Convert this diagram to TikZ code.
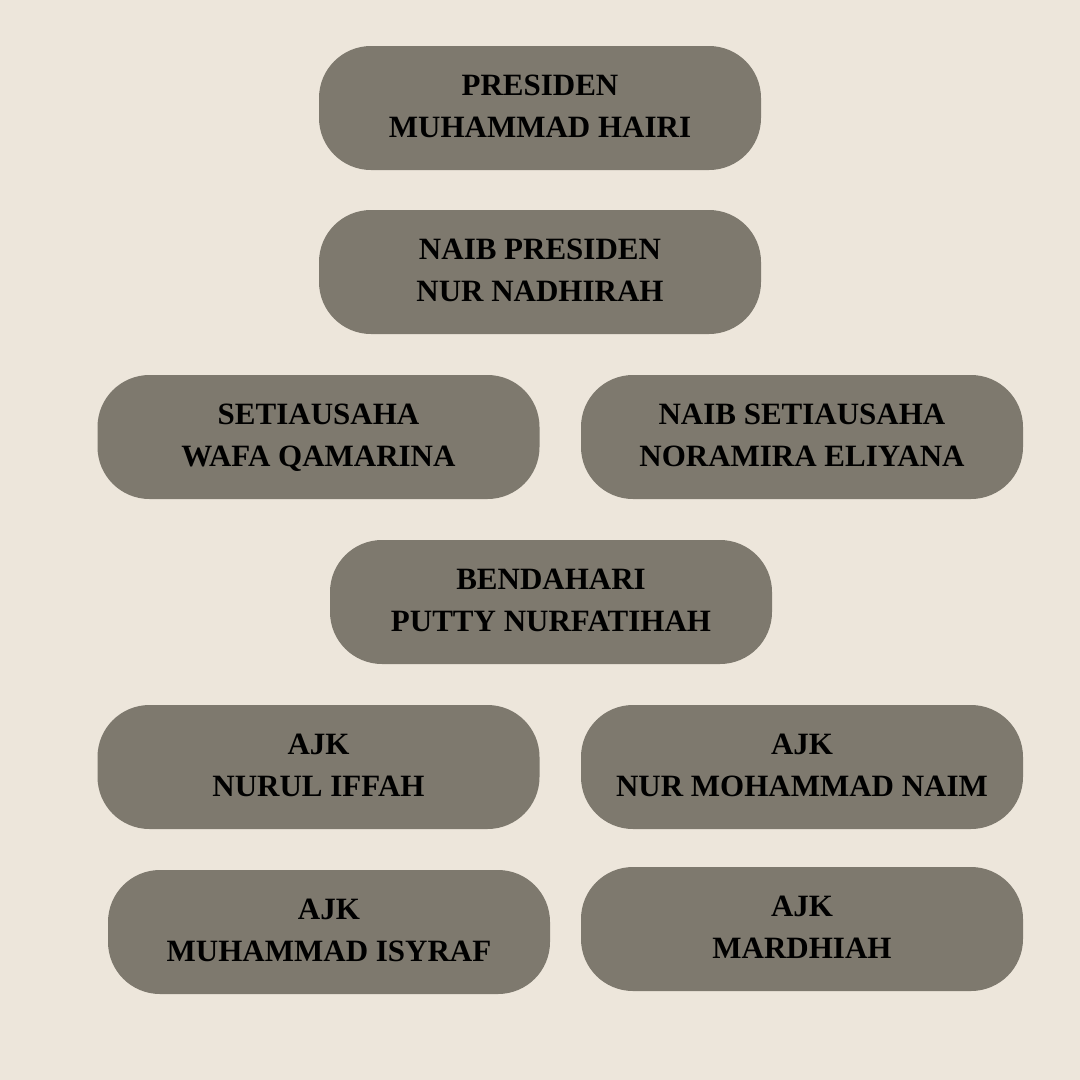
\documentclass[tikz,border=0pt]{standalone}
\usepackage{fontspec}
\setmainfont{Liberation Serif}
\usepackage{xcolor}
\usepackage{tikz}
\definecolor{paper}{HTML}{EDE6DB}
\definecolor{pillgrey}{HTML}{7E796E}
\newcommand{\twoline}[2]{\strut#1\\\strut#2}

\begin{document}
\begin{tikzpicture}[
  x=1pt, y=-1pt,
  pill/.style={fill=pillgrey, rounded corners=52pt, minimum width=442pt, minimum height=124pt, align=center, font=\fontsize{31}{42}\selectfont\bfseries, text=black, inner sep=0pt},
]
  \fill[paper] (0,0) rectangle (1080,1080);
  \useasboundingbox (0,0) rectangle (1080,1080);

  \node[pill] (pres) at (540, 108) {\twoline{PRESIDEN}{MUHAMMAD HAIRI}};
  \node[pill] (npres) at (540, 272) {\twoline{NAIB PRESIDEN}{NUR NADHIRAH}};
  \node[pill] (setia) at (318.5, 437) {\twoline{SETIAUSAHA}{WAFA QAMARINA}};
  \node[pill] (nsetia) at (802, 437) {\twoline{NAIB SETIAUSAHA}{NORAMIRA ELIYANA}};
  \node[pill] (bend) at (551, 602) {\twoline{BENDAHARI}{PUTTY NURFATIHAH}};
  \node[pill] (ajka) at (318.5, 767) {\twoline{AJK}{NURUL IFFAH}};
  \node[pill] (ajkb) at (802, 767) {\twoline{AJK}{NUR MOHAMMAD NAIM}};
  \node[pill] (ajkc) at (329, 932) {\twoline{AJK}{MUHAMMAD ISYRAF}};
  \node[pill] (ajkd) at (802, 929) {\twoline{AJK}{MARDHIAH}};
\end{tikzpicture}
\end{document}
